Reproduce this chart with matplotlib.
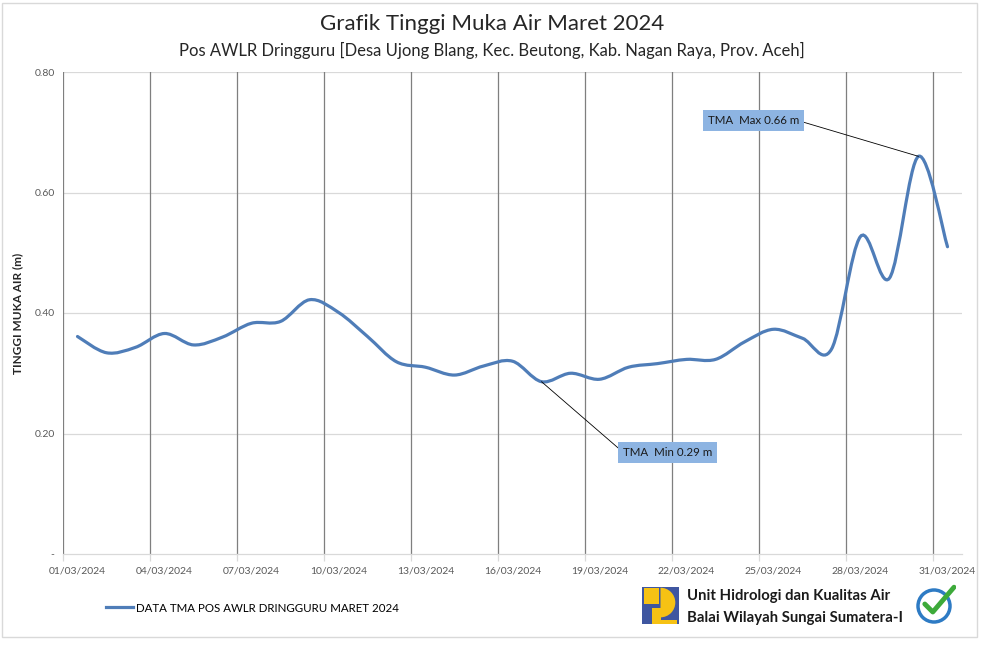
import numpy as np
import matplotlib
matplotlib.use("Agg")
import matplotlib.pyplot as plt
from matplotlib.path import Path
from matplotlib.patches import PathPatch, Rectangle, Circle, Wedge

plt.rcParams["font.family"] = ["Lato", "DejaVu Sans"]

# Data: daily water level (m), March 2024
days = list(range(1, 32))
tma = [0.361, 0.334, 0.343, 0.366, 0.347, 0.360, 0.383, 0.386, 0.422, 0.401,
       0.361, 0.319, 0.310, 0.297, 0.312, 0.320, 0.286, 0.300, 0.290, 0.310,
       0.316, 0.323, 0.323, 0.352, 0.373, 0.358, 0.340, 0.527, 0.458, 0.660,
       0.510]
tick_days = [1, 4, 7, 10, 13, 16, 19, 22, 25, 28, 31]
tick_labels = ["%02d/03/2024" % d for d in tick_days]
y_ticks = [0.0, 0.2, 0.4, 0.6, 0.8]
y_labels = ["-", "0.20", "0.40", "0.60", "0.80"]

line_color = "#4F7DB8"
label_color = "#595959"

fig = plt.figure(figsize=(9.84, 6.6), dpi=100)
ax = fig.add_axes([63 / 984, 1 - 554 / 660, 899 / 984, 482 / 660])

# smooth line like Excel (Catmull-Rom as cubic Bezier segments)
x = np.arange(len(tma), dtype=float)
y = np.array(tma)
pts = np.column_stack([x, y])
ext = np.vstack([pts[0], pts, pts[-1]])
verts = [pts[0]]
codes = [Path.MOVETO]
for i in range(len(pts) - 1):
    p0, p1, p2, p3 = ext[i], ext[i + 1], ext[i + 2], ext[i + 3]
    verts += [p1 + (p2 - p0) / 6, p2 - (p3 - p1) / 6, p2]
    codes += [Path.CURVE4] * 3
ax.add_patch(PathPatch(Path(verts, codes), facecolor="none",
                       edgecolor=line_color, lw=2.3, capstyle="round"))
ax.plot([], [], color=line_color, lw=2.3,
        label="DATA TMA POS AWLR DRINGGURU MARET 2024")

ax.set_xlim(-0.5, len(tma) - 0.5)
ax.set_ylim(0, 0.8)

# grid: light horizontal lines, dark vertical lines between categories
for v in y_ticks[1:]:
    ax.axhline(v, color="#D9D9D9", lw=0.9, zorder=0)
for b in np.arange(-0.5, len(tma) - 1, 3):
    ax.axvline(b, color="#7F7F7F", lw=0.9, zorder=0)

ax.set_yticks(y_ticks)
ax.set_yticklabels(y_labels)
ax.set_xticks([d - 1 for d in tick_days])
ax.set_xticklabels(tick_labels)
ax.set_xticks(np.arange(-0.5, len(tma) - 1, 3), minor=True)
ax.tick_params(axis="x", which="major", length=0, pad=9,
               labelsize=7.5, labelcolor=label_color)
ax.tick_params(axis="x", which="minor", length=5, color="#D9D9D9", width=0.9)
ax.tick_params(axis="y", length=0, pad=6, labelsize=7.5, labelcolor=label_color)
for s in ["top", "right", "left"]:
    ax.spines[s].set_visible(False)
ax.spines["bottom"].set_color("#D9D9D9")
ax.spines["bottom"].set_linewidth(0.9)

ax.set_ylabel("TINGGI MUKA AIR (m)", fontsize=8.5, fontweight="bold",
              color="#262626", labelpad=8)

# min / max callouts
box = dict(boxstyle="square,pad=0.42", facecolor="#8DB4E2", edgecolor="none")
i_min = int(np.argmin(tma))
i_max = int(np.argmax(tma))
ax.annotate("TMA  Min %.2f m" % tma[i_min], xy=(i_min, tma[i_min]),
            xytext=(20.35, 0.169), ha="center", va="center", fontsize=8.3,
            color="#1A1A1A", bbox=box,
            arrowprops=dict(arrowstyle="-", color="black", lw=0.6,
                            shrinkA=0, shrinkB=0, relpos=(0, 0.5)))
ax.annotate("TMA  Max %.2f m" % tma[i_max], xy=(i_max, tma[i_max]),
            xytext=(23.3, 0.719), ha="center", va="center", fontsize=8.3,
            color="#1A1A1A", bbox=box,
            arrowprops=dict(arrowstyle="-", color="black", lw=0.6,
                            shrinkA=0, shrinkB=0, relpos=(1, 0.5)))

# titles
fig.text(0.5, 1 - 24 / 660, "Grafik Tinggi Muka Air Maret 2024",
         ha="center", va="center", fontsize=16, color="#262626")
fig.text(0.5, 1 - 50 / 660,
         "Pos AWLR Dringguru [Desa Ujong Blang, Kec. Beutong, Kab. Nagan Raya, Prov. Aceh]",
         ha="center", va="center", fontsize=12, color="#262626")

# legend
fig.legend(loc="center left", bbox_to_anchor=(96 / 984, 1 - 608 / 660),
           frameon=False, fontsize=8.3, handlelength=2.3, handletextpad=0.3)

# chart border
fig.patches.append(Rectangle((2 / 984, 1 - 637 / 660), 975 / 984, 634 / 660,
                             transform=fig.transFigure, facecolor="none",
                             edgecolor="#D9D9D9", lw=1))

# PU logo (simplified)
lg = fig.add_axes([642 / 984, 1 - 624 / 660, 37 / 984, 37 / 660])
lg.set_xlim(0, 1)
lg.set_ylim(0, 1)
lg.axis("off")
lg.add_patch(Rectangle((0, 0), 1, 1, facecolor="#3F56A0", edgecolor="none"))
lg.add_patch(Rectangle((0.05, 0.55), 0.42, 0.42, facecolor="#F6C214", edgecolor="none"))
lg.add_patch(Wedge((0.5, 0.58), 0.4, -90, 90, facecolor="#F6C214", edgecolor="none"))
lg.add_patch(Rectangle((0.28, 0.0), 0.22, 0.42, facecolor="#F6C214", edgecolor="none"))
lg.add_patch(Rectangle((0.5, 0.0), 0.45, 0.12, facecolor="#F6C214", edgecolor="none"))

fig.text(687 / 984, 1 - 596 / 660, "Unit Hidrologi dan Kualitas Air",
         ha="left", va="center", fontsize=10.7, fontweight="bold", color="#1A1A1A")
fig.text(687 / 984, 1 - 618 / 660, "Balai Wilayah Sungai Sumatera-I",
         ha="left", va="center", fontsize=10.7, fontweight="bold", color="#1A1A1A")

# certified badge (simplified)
bd = fig.add_axes([916 / 984, 1 - 624 / 660, 40 / 984, 40 / 660])
bd.set_xlim(0, 1)
bd.set_ylim(0, 1)
bd.set_aspect("equal")
bd.axis("off")
bd.add_patch(Circle((0.45, 0.45), 0.4, facecolor="white", edgecolor="#2E7BC4", lw=2.5))
bd.plot([0.22, 0.42, 0.95], [0.5, 0.3, 0.92], color="#3DAA3A", lw=3.5,
        solid_capstyle="round")

fig.savefig("out.png", dpi=100, facecolor="white")
